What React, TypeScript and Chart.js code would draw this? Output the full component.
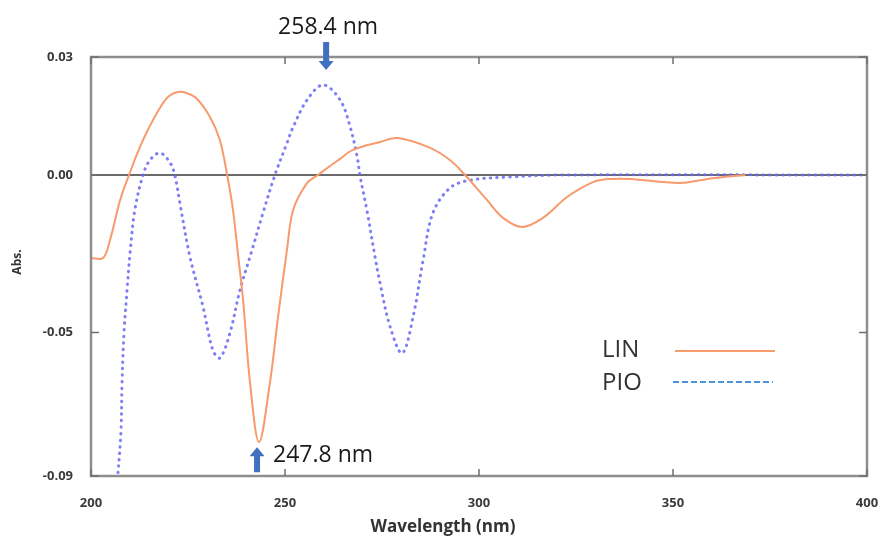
import { useEffect, useRef } from 'react';
import { Chart, registerables } from 'chart.js';

Chart.register(...registerables);

// ---- data ----
const linWavelength = [200.0, 203.1, 204.9, 207.5, 209.8, 212.6, 216.0, 219.6, 222.4, 224.8, 227.3, 230.7, 233.2, 235.1, 236.6, 237.9, 239.2, 241.0, 243.3, 246.1, 248.2, 250.5, 252.1, 255.7, 258.5, 261.6, 264.2, 267.5, 274.5, 279.1, 287.4, 292.5, 296.4, 302.1, 306.2, 311.1, 316.5, 322.7, 329.4, 333.8, 338.9, 351.8, 360.3, 368.6];
const linAbs = [-0.0211, -0.0211, -0.0165, -0.0064, 0, 0.0071, 0.0140, 0.0196, 0.0211, 0.0208, 0.0194, 0.0147, 0.0089, 0, -0.0089, -0.0203, -0.0318, -0.0529, -0.0679, -0.0529, -0.0361, -0.0191, -0.0089, -0.0020, 0, 0.0023, 0.0041, 0.0064, 0.0084, 0.0094, 0.0069, 0.0038, 0, -0.0064, -0.0109, -0.0132, -0.0109, -0.0056, -0.0018, -0.0010, -0.0010, -0.0020, -0.0008, 0];

const pioWavelength = [206.7, 207.7, 208.0, 208.5, 209.3, 210.1, 211.3, 213.4, 215.2, 217.8, 220.4, 221.6, 222.9, 225.5, 228.9, 231.4, 233.2, 235.8, 238.4, 241.5, 244.3, 247.4, 250.5, 252.1, 255.7, 259.8, 264.2, 266.8, 268.6, 269.3, 271.1, 273.2, 274.5, 277.1, 280.2, 283.0, 285.6, 288.1, 292.5, 297.7, 308.0, 320.9, 400.0];
const pioAbs = [-0.0790, -0.0656, -0.0529, -0.0402, -0.0292, -0.0195, -0.0089, 0, 0.0038, 0.0056, 0.0031, 0, -0.0071, -0.0208, -0.0336, -0.0445, -0.0465, -0.0402, -0.0292, -0.0191, -0.0097, 0, 0.0081, 0.0122, 0.0191, 0.0229, 0.0191, 0.0122, 0.0046, 0, -0.0089, -0.0208, -0.0275, -0.0386, -0.0453, -0.0361, -0.0216, -0.0097, -0.0033, -0.0013, -0.0005, 0, 0];

const xTickValues = [200, 250, 300, 350, 400];
const yTickValues = [0.03, 0, -0.04, -0.0765];
const yTickLabels = ['0.03', '0.00', '-0.05', '-0.09'];

const seriesNames = ['LIN', 'PIO'];

// peak annotations: label, wavelength of arrow, absorbance of arrow tip, direction
const annotLabels = ['258.4 nm', '247.8 nm'];
const annotWavelength = [260.6, 242.8];
const annotTipAbs = [0.0267, -0.0692];
const annotDirection = ['down', 'up'];

const LIN_COLOR = '#f79a6d';
const PIO_COLOR = 'rgba(105,105,242,0.85)';
const LEGEND_PIO = '#4f93dc';
const ARROW_COLOR = '#4070c0';

function drawArrow(ctx: CanvasRenderingContext2D, x: number, tipY: number, dir: string) {
  const len = dir === 'down' ? 28 : 25;
  const headLen = 9;
  const headW = 15;
  const shaftW = 6;
  const s = dir === 'down' ? -1 : 1;
  ctx.save();
  ctx.fillStyle = ARROW_COLOR;
  ctx.beginPath();
  ctx.moveTo(x, tipY);
  ctx.lineTo(x + headW / 2, tipY + s * headLen);
  ctx.lineTo(x + shaftW / 2, tipY + s * headLen);
  ctx.lineTo(x + shaftW / 2, tipY + s * len);
  ctx.lineTo(x - shaftW / 2, tipY + s * len);
  ctx.lineTo(x - shaftW / 2, tipY + s * headLen);
  ctx.lineTo(x - headW / 2, tipY + s * headLen);
  ctx.closePath();
  ctx.fill();
  ctx.restore();
}

const decorPlugin = {
  id: 'decor',
  beforeDatasetsDraw(chart: any) {
    const { ctx, chartArea } = chart;
    const y = chart.scales.y.getPixelForValue(0);
    ctx.save();
    ctx.strokeStyle = '#6a6a6a';
    ctx.lineWidth = 2;
    ctx.beginPath();
    ctx.moveTo(chartArea.left, y);
    ctx.lineTo(chartArea.right, y);
    ctx.stroke();
    ctx.restore();
  },
  afterDraw(chart: any) {
    const { ctx, chartArea } = chart;
    const xs = chart.scales.x;
    const ys = chart.scales.y;
    ctx.save();
    ctx.strokeStyle = '#8e8e8e';
    ctx.lineWidth = 2.5;
    ctx.strokeRect(chartArea.left, chartArea.top, chartArea.right - chartArea.left, chartArea.bottom - chartArea.top);
    ctx.strokeStyle = '#707070';
    ctx.lineWidth = 1.5;
    ctx.beginPath();
    xTickValues.forEach((v) => {
      const px = xs.getPixelForValue(v);
      ctx.moveTo(px, chartArea.top);
      ctx.lineTo(px, chartArea.top + 7);
      ctx.moveTo(px, chartArea.bottom);
      ctx.lineTo(px, chartArea.bottom - 7);
    });
    yTickValues.forEach((v) => {
      const py = ys.getPixelForValue(v);
      ctx.moveTo(chartArea.left, py);
      ctx.lineTo(chartArea.left + 8, py);
      ctx.moveTo(chartArea.right, py);
      ctx.lineTo(chartArea.right - 8, py);
    });
    ctx.stroke();

    ctx.fillStyle = '#333';
    ctx.font = 'bold 17px "Open Sans"';
    ctx.textAlign = 'center';
    ctx.textBaseline = 'middle';
    ctx.fillText('Wavelength (nm)', 443, 527);
    ctx.save();
    ctx.translate(18, 262);
    ctx.rotate(-Math.PI / 2);
    ctx.font = 'bold 12px "Open Sans"';
    ctx.fillText('Abs.', 0, 0);
    ctx.restore();

    ctx.font = '24px "Open Sans"';
    ctx.textAlign = 'left';
    ctx.textBaseline = 'alphabetic';
    ctx.fillStyle = '#333';
    ctx.fillText(seriesNames[0], 602, 357);
    ctx.fillText(seriesNames[1], 602, 390);
    ctx.strokeStyle = LIN_COLOR;
    ctx.lineWidth = 2;
    ctx.beginPath();
    ctx.moveTo(675, 351);
    ctx.lineTo(775, 351);
    ctx.stroke();
    ctx.strokeStyle = LEGEND_PIO;
    ctx.setLineDash([6, 3]);
    ctx.beginPath();
    ctx.moveTo(673, 382);
    ctx.lineTo(773, 382);
    ctx.stroke();
    ctx.setLineDash([]);

    ctx.font = '23px "Open Sans"';
    ctx.fillStyle = '#1a1a1a';
    annotLabels.forEach((label, i) => {
      const px = xs.getPixelForValue(annotWavelength[i]);
      const py = ys.getPixelForValue(annotTipAbs[i]);
      drawArrow(ctx, px, py, annotDirection[i]);
      if (annotDirection[i] === 'down') {
        ctx.textAlign = 'center';
        ctx.fillText(label, px + 2, py - 36);
      } else {
        ctx.textAlign = 'left';
        ctx.fillText(label, px + 16, py + 15);
      }
    });
    ctx.restore();
  },
};

export default function App() {
  const ref = useRef<HTMLCanvasElement | null>(null);

  useEffect(() => {
    if (!ref.current) return;
    const chart = new Chart(ref.current, {
      type: 'line',
      data: {
        datasets: [
          {
            label: seriesNames[0],
            data: linWavelength.map((x, i) => ({ x, y: linAbs[i] })),
            borderColor: LIN_COLOR,
            borderWidth: 2,
            pointRadius: 0,
            tension: 0.35,
            fill: false,
          },
          {
            label: seriesNames[1],
            data: pioWavelength.map((x, i) => ({ x, y: pioAbs[i] })),
            borderColor: PIO_COLOR,
            borderWidth: 3,
            borderDash: [0.5, 6],
            borderCapStyle: 'round',
            pointRadius: 0,
            tension: 0.35,
            fill: false,
          },
        ],
      },
      options: {
        animation: false,
        responsive: true,
        maintainAspectRatio: false,
        layout: { padding: { left: 0, right: 13, top: 57, bottom: 0 } },
        plugins: { legend: { display: false }, tooltip: { enabled: false } },
        scales: {
          x: {
            type: 'linear',
            min: 200,
            max: 400,
            afterBuildTicks: (scale: any) => {
              scale.ticks = xTickValues.map((v) => ({ value: v }));
            },
            afterFit: (scale: any) => {
              scale.height = 64;
              scale.paddingLeft = 0;
              scale.paddingRight = 0;
            },
            grid: { display: false },
            border: { display: false },
            ticks: {
              padding: 11,
              color: '#3a3a3a',
              font: { family: 'Open Sans', size: 13, weight: 'bold' },
              maxRotation: 0,
              callback: (v: any) => String(v),
            },
          },
          y: {
            type: 'linear',
            min: -0.0765,
            max: 0.03,
            afterBuildTicks: (scale: any) => {
              scale.ticks = yTickValues.map((v) => ({ value: v }));
            },
            afterFit: (scale: any) => {
              scale.width = 91;
              scale.paddingTop = 0;
              scale.paddingBottom = 0;
            },
            grid: { display: false },
            border: { display: false },
            ticks: {
              padding: 10,
              color: '#3a3a3a',
              font: { family: 'Open Sans', size: 13, weight: 'bold' },
              callback: (_v: any, i: number) => yTickLabels[i],
            },
          },
        },
      },
      plugins: [decorPlugin],
    } as any);
    return () => chart.destroy();
  }, []);

  return (
    <div style={{ position: 'fixed', left: 0, top: 0, width: 880, height: 540, background: '#fff' }}>
      <canvas ref={ref} />
    </div>
  );
}
